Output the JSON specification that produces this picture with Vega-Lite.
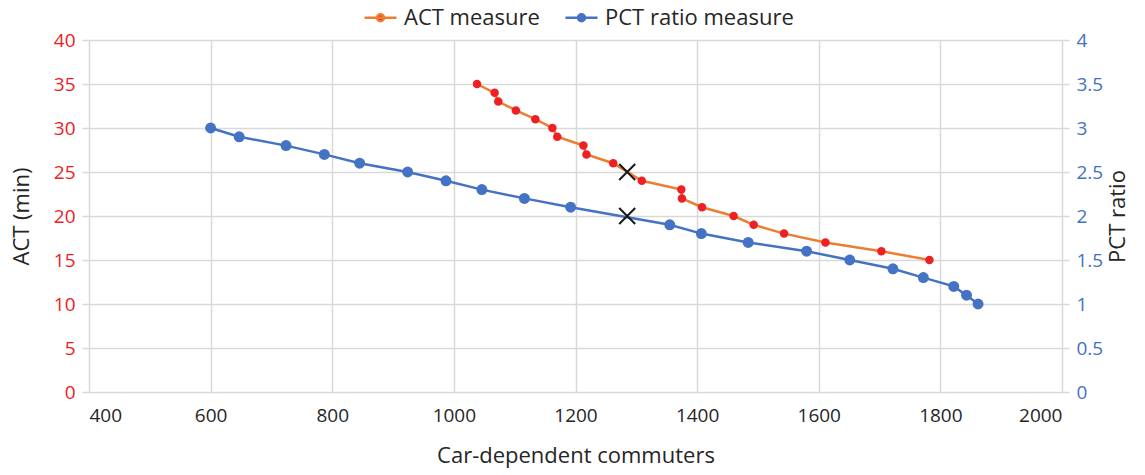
{
  "$schema": "https://vega.github.io/schema/vega-lite/v6.json",
  "width": 973,
  "height": 352,
  "autosize": {"type": "none"},
  "padding": {"left": 89, "top": 40, "right": 83, "bottom": 83},
  "background": "white",
  "config": {
    "font": "Open Sans",
    "view": {"stroke": null},
    "axis": {"labelFont": "Open Sans", "titleFont": "Open Sans", "titleFontWeight": "normal", "labelFontSize": 19, "titleFontSize": 22, "gridColor": "#d9d9d9", "gridWidth": 1.5, "tickColor": "#d9d9d9", "tickWidth": 1.5, "domain": false, "titleColor": "#262626"},
    "legend": {"labelFont": "Open Sans", "labelFontSize": 22, "labelColor": "#262626", "labelLimit": 400}
  },
  "datasets": {
    "act": [
      {"commuters": 1038, "act": 35, "series": "ACT measure"},
      {"commuters": 1067, "act": 34, "series": "ACT measure"},
      {"commuters": 1073, "act": 33, "series": "ACT measure"},
      {"commuters": 1102, "act": 32, "series": "ACT measure"},
      {"commuters": 1134, "act": 31, "series": "ACT measure"},
      {"commuters": 1162, "act": 30, "series": "ACT measure"},
      {"commuters": 1170, "act": 29, "series": "ACT measure"},
      {"commuters": 1213, "act": 28, "series": "ACT measure"},
      {"commuters": 1218, "act": 27, "series": "ACT measure"},
      {"commuters": 1262, "act": 26, "series": "ACT measure"},
      {"commuters": 1309, "act": 24, "series": "ACT measure"},
      {"commuters": 1374, "act": 23, "series": "ACT measure"},
      {"commuters": 1375, "act": 22, "series": "ACT measure"},
      {"commuters": 1408, "act": 21, "series": "ACT measure"},
      {"commuters": 1460, "act": 20, "series": "ACT measure"},
      {"commuters": 1493, "act": 19, "series": "ACT measure"},
      {"commuters": 1543, "act": 18, "series": "ACT measure"},
      {"commuters": 1611, "act": 17, "series": "ACT measure"},
      {"commuters": 1703, "act": 16, "series": "ACT measure"},
      {"commuters": 1782, "act": 15, "series": "ACT measure"}
    ],
    "pct": [
      {"commuters": 600, "pct": 3.0, "series": "PCT ratio measure"},
      {"commuters": 647, "pct": 2.9, "series": "PCT ratio measure"},
      {"commuters": 724, "pct": 2.8, "series": "PCT ratio measure"},
      {"commuters": 787, "pct": 2.7, "series": "PCT ratio measure"},
      {"commuters": 845, "pct": 2.6, "series": "PCT ratio measure"},
      {"commuters": 924, "pct": 2.5, "series": "PCT ratio measure"},
      {"commuters": 987, "pct": 2.4, "series": "PCT ratio measure"},
      {"commuters": 1046, "pct": 2.3, "series": "PCT ratio measure"},
      {"commuters": 1116, "pct": 2.2, "series": "PCT ratio measure"},
      {"commuters": 1192, "pct": 2.1, "series": "PCT ratio measure"},
      {"commuters": 1355, "pct": 1.9, "series": "PCT ratio measure"},
      {"commuters": 1407, "pct": 1.8, "series": "PCT ratio measure"},
      {"commuters": 1484, "pct": 1.7, "series": "PCT ratio measure"},
      {"commuters": 1580, "pct": 1.6, "series": "PCT ratio measure"},
      {"commuters": 1651, "pct": 1.5, "series": "PCT ratio measure"},
      {"commuters": 1722, "pct": 1.4, "series": "PCT ratio measure"},
      {"commuters": 1772, "pct": 1.3, "series": "PCT ratio measure"},
      {"commuters": 1822, "pct": 1.2, "series": "PCT ratio measure"},
      {"commuters": 1843, "pct": 1.1, "series": "PCT ratio measure"},
      {"commuters": 1862, "pct": 1.0, "series": "PCT ratio measure"}
    ],
    "markers": [
      {"commuters": 1285, "act": 25, "pct": 2.0}
    ]
  },
  "layer": [
    {
      "encoding": {
        "x": {"field": "commuters", "type": "quantitative", "scale": {"domain": [400, 2000], "nice": false, "zero": false},
          "axis": {"values": [400, 600, 800, 1000, 1200, 1400, 1600, 1800, 2000], "format": "d", "grid": true, "ticks": false, "labelColor": "#262626", "labelPadding": 14, "title": "Car-dependent commuters", "titlePadding": 20}},
        "y": {"field": "act", "type": "quantitative", "scale": {"domain": [0, 40], "nice": false},
          "axis": {"orient": "left", "values": [0, 5, 10, 15, 20, 25, 30, 35, 40], "format": "d", "grid": true, "tickSize": 7, "labelColor": "#EE2024", "labelPadding": 7, "title": "ACT (min)", "titlePadding": 20}}
      },
      "layer": [
        {"data": {"name": "act"}, "mark": {"type": "line", "strokeWidth": 2.5},
          "encoding": {"stroke": {"field": "series", "type": "nominal",
            "scale": {"domain": ["ACT measure", "PCT ratio measure"], "range": ["#ED7D31", "#4472C4"]},
            "legend": {"title": null, "orient": "none", "direction": "horizontal", "legendX": 274, "legendY": -40, "symbolType": "M-1,0H1M-0.22,0A0.22,0.22 0 1,0 0.22,0A0.22,0.22 0 1,0 -0.22,0Z", "symbolSize": 1024, "symbolStrokeWidth": 2.5, "columnPadding": 20, "labelOffset": 6}}}},
        {"data": {"name": "act"}, "mark": {"type": "circle", "size": 72, "opacity": 1},
          "encoding": {"fill": {"field": "series", "type": "nominal",
            "scale": {"domain": ["ACT measure", "PCT ratio measure"], "range": ["#EE2024", "#4472C4"]},
            "legend": {"title": null, "orient": "none", "direction": "horizontal", "legendX": 274, "legendY": -40, "symbolType": "M-1,0H1M-0.22,0A0.22,0.22 0 1,0 0.22,0A0.22,0.22 0 1,0 -0.22,0Z", "symbolSize": 1024, "symbolStrokeWidth": 2.5, "columnPadding": 20, "labelOffset": 6}}}},
        {"data": {"name": "markers"}, "mark": {"type": "point", "shape": "M-1,-1L1,1M1,-1L-1,1", "size": 256, "filled": false, "stroke": "#1a1a1a", "strokeWidth": 2, "opacity": 1}}
      ]
    },
    {
      "encoding": {
        "x": {"field": "commuters", "type": "quantitative"},
        "y": {"field": "pct", "type": "quantitative", "scale": {"domain": [0, 4], "nice": false},
          "axis": {"orient": "right", "values": [0, 0.5, 1, 1.5, 2, 2.5, 3, 3.5, 4], "format": "~g", "grid": false, "tickSize": 7, "labelColor": "#4472C4", "labelPadding": 7, "title": "PCT ratio", "titleAngle": 270, "titlePadding": 27}}
      },
      "layer": [
        {"data": {"name": "pct"}, "mark": {"type": "line", "strokeWidth": 2.5},
          "encoding": {"stroke": {"field": "series", "type": "nominal"}}},
        {"data": {"name": "pct"}, "mark": {"type": "circle", "size": 120, "opacity": 1},
          "encoding": {"fill": {"field": "series", "type": "nominal"}}},
        {"data": {"name": "markers"}, "mark": {"type": "point", "shape": "M-1,-1L1,1M1,-1L-1,1", "size": 256, "filled": false, "stroke": "#1a1a1a", "strokeWidth": 2, "opacity": 1}}
      ]
    }
  ],
  "resolve": {"scale": {"y": "independent"}}
}
